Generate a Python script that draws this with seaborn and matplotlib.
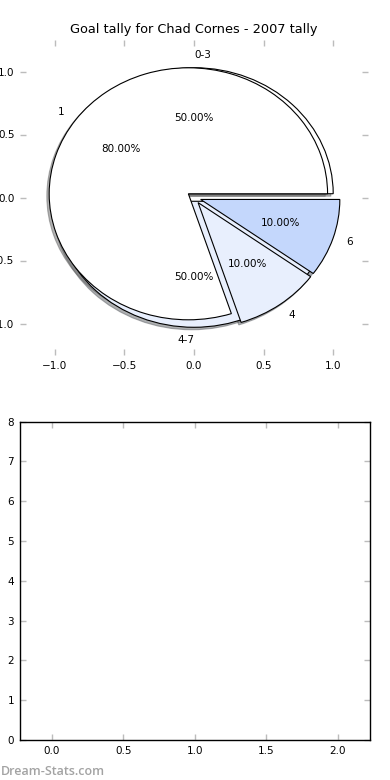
import matplotlib
matplotlib.use("Agg")
import matplotlib.pyplot as plt
import seaborn as sns

sns.set_style("white")
plt.rcParams["font.family"] = ["DejaVu Sans"]
plt.rcParams["text.color"] = "black"
plt.rcParams["axes.titlecolor"] = "black"

# goal tally data
range_labels = ["0-3", "4-7"]
range_games = [5, 5]
goal_labels = ["1", "4", "6"]
goal_games = [8, 1, 1]
bar_x = [0, 1, 2]
bar_y = [0, 0, 0]

TICK_GREY = "#bcbcbc"
range_colors = ["white", "#e8effd"]
goal_colors = ["white", "#e8effd", "#c4d7fc"]

fig = plt.figure(figsize=(3.9, 7.8), dpi=100)

# ---------------------------------------------------------------------------
# top: two pies drawn on the same axes
# ---------------------------------------------------------------------------
ax1 = fig.add_axes([20 / 390, 1 - 355 / 780, 348 / 390, 315 / 780])
wp = {"edgecolor": "black", "linewidth": 0.8}
tp = {"fontsize": 7.5, "color": "black"}
shadow = {"ox": -0.012, "oy": -0.014, "shade": 0.6}
_, rtexts, _ = ax1.pie(range_games, labels=range_labels, colors=range_colors,
                       explode=[0.03, 0.03], autopct="%1.2f%%", shadow=shadow,
                       wedgeprops=wp, textprops=tp, frame=True)
# labels sit on the vertical axis: first one starts at centre, second ends there
rtexts[0].set_ha("left")
rtexts[1].set_ha("right")
ax1.pie(goal_games, labels=goal_labels, colors=goal_colors, explode=[0.05, 0.05, 0.05],
        autopct="%1.2f%%", shadow=shadow, wedgeprops=wp, textprops=tp, frame=True)
ax1.set_aspect("auto")
ax1.set_frame_on(False)
ax1.set_xlim(-1.25, 1.25)
ax1.set_ylim(-1.25, 1.25)
ax1.set_xticks([-1.0, -0.5, 0.0, 0.5, 1.0])
ax1.set_yticks([-1.0, -0.5, 0.0, 0.5, 1.0])
ax1.set_title("Goal tally for Chad Cornes - 2007 tally", fontsize=9.3, pad=5)

# ---------------------------------------------------------------------------
# bottom: empty bar chart
# ---------------------------------------------------------------------------
ax2 = fig.add_axes([19.5 / 390, 1 - 740 / 780, 350.5 / 390, 318.5 / 780])
sns.barplot(x=bar_x, y=bar_y, native_scale=True, width=0.45, color="#c4d7fc", ax=ax2)
ax2.set_xlim(-0.225, 2.225)
ax2.set_ylim(0, 8)
ax2.set_xticks([0.0, 0.5, 1.0, 1.5, 2.0])
ax2.set_yticks(range(0, 9))
ax2.set_xlabel(""); ax2.set_ylabel("")
for s in ax2.spines.values():
    s.set_visible(True)
    s.set_color("black")
    s.set_linewidth(1.0)

for ax in (ax1, ax2):
    ax.tick_params(direction="in", length=4, width=1, color=TICK_GREY,
                   top=True, right=True, bottom=True, left=True,
                   labelsize=7.5, labelcolor="black", pad=4)

fig.text(0.002, 0.007, "Dream-Stats.com", color="#a3a3a3", fontsize=9,
         fontweight="semibold", family=["Open Sans", "DejaVu Sans"])

fig.savefig("out.png", dpi=100)
